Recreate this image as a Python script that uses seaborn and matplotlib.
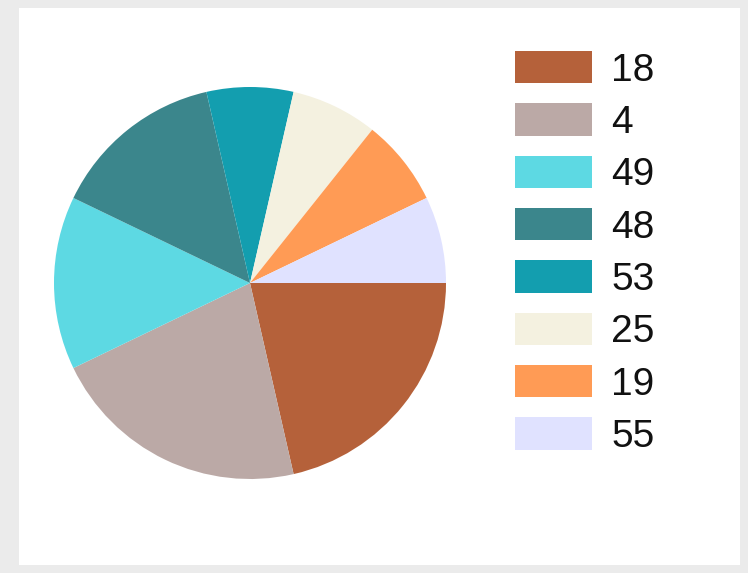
import matplotlib
matplotlib.use("Agg")
import matplotlib.pyplot as plt
import matplotlib.patches as mpatches
import seaborn as sns

# ── Data ──────────────────────────────────────────────────────────────────────
LABELS = ["18", "4", "49", "48", "53", "25", "19", "55"]
VALUES = [3, 3, 2, 2, 1, 1, 1, 1]
COLORS = ["#B5613A", "#BBA9A6", "#5DD9E3", "#3B868C",
          "#139EAF", "#F4F1E0", "#FF9B55", "#E0E2FF"]

sns.set_theme(style="white")
plt.rcParams["font.family"] = ["Liberation Sans", "DejaVu Sans"]

W, H = 748, 573
fig = plt.figure(figsize=(W / 100, H / 100), dpi=100)
fig.patch.set_facecolor("#EBEBEB")

# white inner panel
fig.add_artist(mpatches.Rectangle((19 / W, 8 / H), (740 - 19) / W, (565 - 8) / H,
                                  transform=fig.transFigure, facecolor="white",
                                  edgecolor="none", zorder=0))

# ── Pie ───────────────────────────────────────────────────────────────────────
cx, cy, r = 250, H - 283, 196
ax = fig.add_axes([(cx - r) / W, (cy - r) / H, 2 * r / W, 2 * r / H])
palette = sns.color_palette(COLORS)
wedges, _ = ax.pie(VALUES, colors=palette, startangle=0, counterclock=False,
                   radius=1, wedgeprops={"linewidth": 0})
ax.set_xlim(-1, 1)
ax.set_ylim(-1, 1)
ax.set_aspect("equal")
ax.axis("off")

# ── Legend ────────────────────────────────────────────────────────────────────
fig.legend(wedges, LABELS, loc="upper left",
           bbox_to_anchor=(515 / W, 1 - 51 / H),
           frameon=False, fontsize=28, labelcolor="#111111",
           handlelength=1.98, handleheight=0.9,
           handletextpad=0.5, labelspacing=0.38, borderpad=0, borderaxespad=0)

fig.savefig("out.png", dpi=100, facecolor=fig.get_facecolor())
